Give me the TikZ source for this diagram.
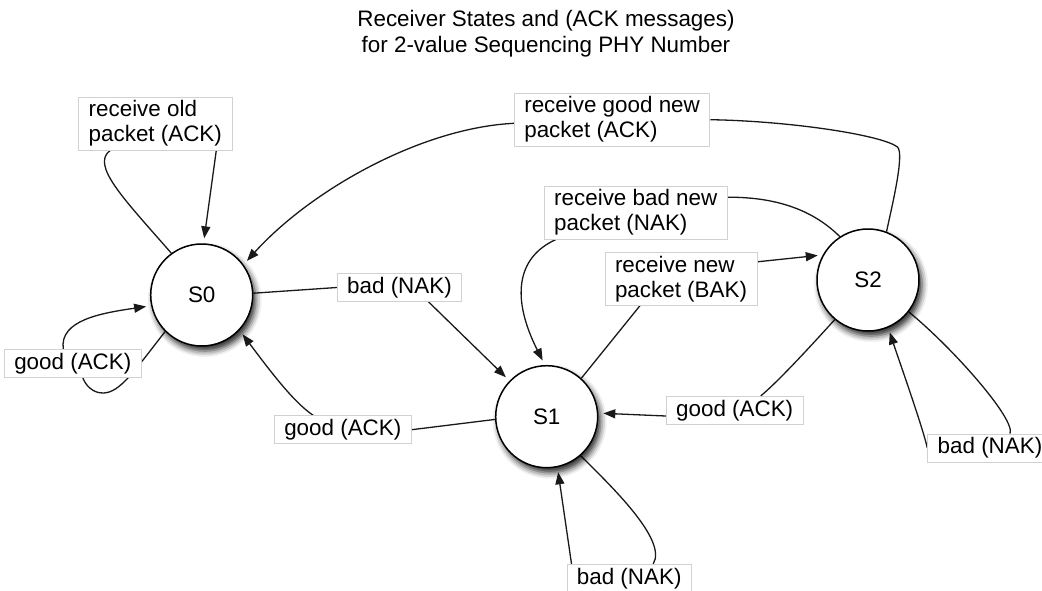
\documentclass[tikz,border=0pt]{standalone}
\usepackage{fontspec}
\setmainfont{Liberation Sans}
\usepackage{tikz}
\usetikzlibrary{arrows.meta,shadows.blur,backgrounds}
\tikzset{
  font={\fontsize{22.4pt}{25pt}\selectfont},
  state/.style={circle,draw=black,line width=1.5pt,fill=white,minimum size=102pt,inner sep=0pt,
    blur shadow={shadow xshift=3pt,shadow yshift=-5pt,shadow blur radius=6pt,shadow opacity=85}},
  lbl/.style={draw=black!18,line width=0.8pt,fill=white,inner xsep=10pt,inner ysep=3.5pt,align=left},
  edge/.style={line width=1.3pt,draw=black!90},
  arr/.style={edge,-{Triangle[length=12pt,width=9pt]},shorten >=5pt}
}

\begin{document}
\begin{tikzpicture}[x=1pt,y=-1pt]
\useasboundingbox (0,0) rectangle (1042,590);
% title
\node[align=center,font={\fontsize{22.4pt}{26pt}\selectfont}] (title) at (546,34)
  {Receiver States and (ACK messages)\\for 2-value Sequencing PHY Number};
% states
\node[state] (S0) at (201.7,295) {S0};
\node[state] (S1) at (546.7,416.7) {S1};
\node[state] (S2) at (868,280) {S2};
% labels
\node[lbl] (old) at (155.3,123.5) {receive old\\packet (ACK)};
\node[lbl] (gl) at (72.8,363.5) {good (ACK)};
\node[lbl] (gnew) at (612.1,119.7) {receive good new\\packet (ACK)};
\node[lbl] (bnew) at (635.8,212.7) {receive bad new\\packet (NAK)};
\node[lbl] (rnew) at (681,278.8) {receive new\\packet (BAK)};
\node[lbl] (bad01) at (399.5,287.5) {bad (NAK)};
\node[lbl] (good10) at (342.8,429.7) {good (ACK)};
\node[lbl] (good21) at (734.7,410.3) {good (ACK)};
\node[lbl] (bad22) at (990,448) {bad (NAK)};
\node[lbl] (bad11) at (629.2,578.2) {bad (NAK)};
% transitions
\begin{scope}[on background layer]
% S0 loops
\draw[edge] (S0.126) .. controls (125,200) and (90,165) .. ([xshift=-45pt]old.south);
\draw[arr] ([xshift=61pt]old.south) -- (S0.88);
\draw[edge] (S0.225) .. controls (135,370) and (120,393) .. (103,393)
  .. controls (93,393) and (86,386) .. ([xshift=10pt]gl.south);
\draw[arr] ([xshift=-9.5pt]gl.north) .. controls (59,320) and (102,313) .. (S0.192);
% S0 and S1
\draw[edge] (S0.2) -- (bad01.west);
\draw[arr] ([xshift=29pt]bad01.south) -- (S1.136);
\draw[edge] (S1.183) -- (good10.east);
\draw[arr] ([xshift=-29.5pt]good10.north) .. controls (293,402) and (268,368) .. (S0.-43);
% S1 and S2
\draw[edge] (S1.48) -- ([xshift=-41pt]rnew.south);
\draw[arr] ([yshift=17pt]rnew.east) -- (S2.151);
\draw[edge] (S2.230) .. controls (818,338) and (780,380) .. ([xshift=26pt]good21.north);
\draw[arr] ([yshift=-5.7pt]good21.west) -- (S1.4);
\draw[edge] (S2.123) .. controls (815,212) and (780,197) .. ([yshift=15.5pt]bnew.east);
\draw[arr] ([xshift=12pt]bnew.south west) .. controls (515,258) and (512,300) .. (S1.92);
% S2 back to S0
\draw[edge] (S2.69) .. controls (891,210) and (905,154) .. (897.5,147)
  .. controls (882,135) and (790,121) .. (gnew.east);
\draw[arr] ([yshift=-3.6pt]gnew.west) .. controls (420,128) and (310,191) .. (S0.36);
% S1 and S2 loops
\draw[edge] (S1.-49) .. controls (610,485) and (668,540) .. ([xshift=24pt]bad11.north);
\draw[arr] ([xshift=5pt]bad11.north west) -- (S1.-78);
\draw[edge] (S2.-38) .. controls (955,350) and (1016,420) .. ([xshift=20pt]bad22.north);
\draw[arr] (bad22.west) .. controls (923,428) and (897.6,356.3) .. (S2.-67);
\end{scope}
\end{tikzpicture}
\end{document}
